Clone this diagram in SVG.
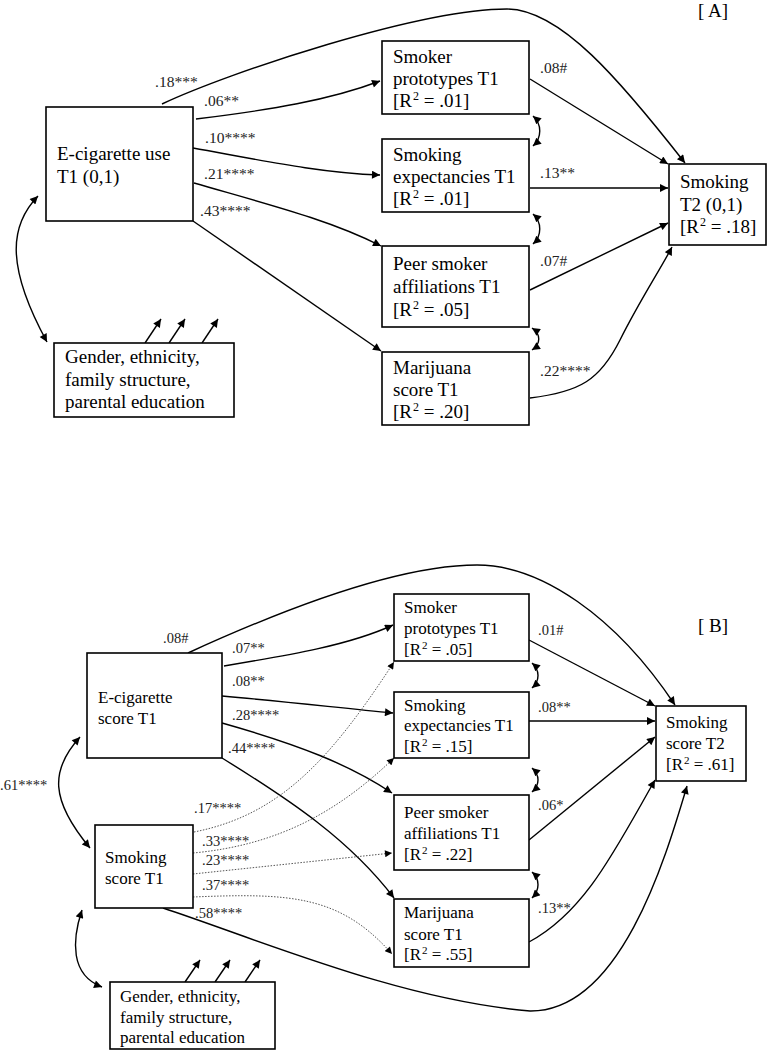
<svg xmlns="http://www.w3.org/2000/svg" width="768" height="1050" viewBox="0 0 768 1050">
<style>
.bx{fill:#fff;stroke:#000;stroke-width:1.6}
.ta{font-family:"Liberation Serif","Times New Roman",serif;font-size:19px;fill:#000}
.tb{font-family:"Liberation Serif","Times New Roman",serif;font-size:17px;fill:#000}
.ca{font-family:"Liberation Serif","Times New Roman",serif;font-size:15.5px;fill:#222}
.cb{font-family:"Liberation Serif","Times New Roman",serif;font-size:14.5px;fill:#222}
.ln{fill:none;stroke:#000;stroke-width:1.4;marker-end:url(#ah)}
.dl{fill:none;stroke:#555;stroke-width:1;stroke-dasharray:1.5 1.5;marker-end:url(#ahs)}
.bi{fill:none;stroke:#000;stroke-width:1.4;marker-start:url(#ah);marker-end:url(#ah)}
.sa{font-size:12px}
.sb{font-size:11px}
</style>
<defs>
<marker id="ah" viewBox="0 0 10 10" refX="10" refY="5" markerWidth="10" markerHeight="8" markerUnits="userSpaceOnUse" orient="auto-start-reverse"><path d="M0,0 L10,5 L0,10 z" fill="#000"/></marker>
<marker id="ahs" viewBox="0 0 10 10" refX="10" refY="5" markerWidth="8" markerHeight="7" markerUnits="userSpaceOnUse" orient="auto-start-reverse"><path d="M0,0 L10,5 L0,10 z" fill="#000"/></marker>
</defs>
<rect width="768" height="1050" fill="#fff"/>

<g id="connectors">
<!-- Panel A -->
<path class="ln" d="M162,104 C230,72 420,9 507,9 C560,9 620,80 685,163"/>
<path class="ln" d="M196,119 C270,110 330,100 380,81"/>
<path class="ln" d="M193,148 C260,160 320,173 380,175"/>
<path class="ln" d="M194,183 C270,205 330,220 381,246"/>
<path class="ln" d="M193,221 L381,351"/>
<path class="ln" d="M530,79 L668,164"/>
<path class="ln" d="M530,188 L668,188"/>
<path class="ln" d="M530,290 L668,223"/>
<path class="ln" d="M530,398 C580,392 600,380 620,340 C640,300 660,270 672,247"/>
<path class="bi" d="M533,116 C542,124 542,138 533,146"/>
<path class="bi" d="M533,214 C542,222 542,236 533,244"/>
<path class="bi" d="M532,328 C541,334 541,344 532,350"/>
<path class="bi" d="M38,196 C10,225 5,265 47,342"/>
<path class="ln" d="M145,343 L161,319"/>
<path class="ln" d="M169,343 L185,319"/>
<path class="ln" d="M202,343 L218,319"/>
<!-- Panel B -->
<path class="ln" d="M188,653 C260,620 390,565 477,565 C540,565 615,615 675,705"/>
<path class="ln" d="M224,666 C290,655 350,645 393,625"/>
<path class="ln" d="M222,696 C290,702 340,708 393,713"/>
<path class="ln" d="M222,723 C300,745 350,765 392,793"/>
<path class="ln" d="M222,758 C290,800 350,840 394,898"/>
<path class="dl" d="M194,832 C280,815 330,760 394,662"/>
<path class="dl" d="M193,853 C280,845 340,810 394,758"/>
<path class="dl" d="M193,874 L392,853"/>
<path class="dl" d="M193,897 C290,893 340,895 392,954"/>
<path class="ln" d="M163,908 C260,940 400,1000 530,1011 C620,1012 665,860 687,786"/>
<path class="ln" d="M529,640 L655,706"/>
<path class="ln" d="M529,721 L655,721"/>
<path class="ln" d="M529,840 L655,737"/>
<path class="ln" d="M529,942 C585,912 615,850 655,780"/>
<path class="bi" d="M532,663 C540,670 540,681 532,688"/>
<path class="bi" d="M532,768 C540,775 540,785 532,792"/>
<path class="bi" d="M532,872 C540,879 540,890 532,898"/>
<path class="bi" d="M80,737 C50,770 50,800 90,848"/>
<path class="bi" d="M82,910 C72,940 70,975 102,987"/>
<path class="ln" d="M185,982 L200,960"/>
<path class="ln" d="M215,982 L230,960"/>
<path class="ln" d="M245,982 L260,960"/>
</g>

<g id="labels">
<text class="ta" x="698" y="17">[ A]</text>
<text class="ca" x="155" y="87">.18***</text>
<text class="ca" x="204" y="106">.06**</text>
<text class="ca" x="205" y="143">.10****</text>
<text class="ca" x="204" y="179">.21****</text>
<text class="ca" x="200" y="216">.43****</text>
<text class="ca" x="540" y="73">.08#</text>
<text class="ca" x="540" y="178">.13**</text>
<text class="ca" x="540" y="266">.07#</text>
<text class="ca" x="540" y="376">.22****</text>
<text class="ta" x="698" y="632">[ B]</text>
<text class="cb" x="163" y="643">.08#</text>
<text class="cb" x="232" y="653">.07**</text>
<text class="cb" x="232" y="686">.08**</text>
<text class="cb" x="232" y="720">.28****</text>
<text class="cb" x="228" y="753">.44****</text>
<text class="cb" x="194" y="813">.17****</text>
<text class="cb" x="202" y="846">.33****</text>
<text class="cb" x="202" y="865">.23****</text>
<text class="cb" x="202" y="890">.37****</text>
<text class="cb" x="195" y="918">.58****</text>
<text class="cb" x="0" y="790">.61****</text>
<text class="cb" x="538" y="635">.01#</text>
<text class="cb" x="538" y="712">.08**</text>
<text class="cb" x="538" y="810">.06*</text>
<text class="cb" x="538" y="913">.13**</text>
</g>

<g id="ecigA"><rect class="bx" x="46" y="107" width="147" height="114"/>
<text class="ta" x="57" y="160">E-cigarette use</text><text class="ta" x="57" y="183">T1 (0,1)</text></g>
<g id="protoA"><rect class="bx" x="382" y="41" width="147" height="73"/>
<text class="ta" x="393" y="63">Smoker</text><text class="ta" x="393" y="85">prototypes T1</text><text class="ta" x="393" y="107">[R<tspan class="sa" dx="1" dy="-7">2</tspan><tspan dy="7"> = .01]</tspan></text></g>
<g id="expA"><rect class="bx" x="382" y="139" width="147" height="73"/>
<text class="ta" x="393" y="161">Smoking</text><text class="ta" x="393" y="183">expectancies T1</text><text class="ta" x="393" y="205">[R<tspan class="sa" dx="1" dy="-7">2</tspan><tspan dy="7"> = .01]</tspan></text></g>
<g id="peerA"><rect class="bx" x="382" y="246" width="147" height="81"/>
<text class="ta" x="393" y="270">Peer smoker</text><text class="ta" x="393" y="293">affiliations T1</text><text class="ta" x="393" y="316">[R<tspan class="sa" dx="1" dy="-7">2</tspan><tspan dy="7"> = .05]</tspan></text></g>
<g id="mariA"><rect class="bx" x="382" y="352" width="147" height="73"/>
<text class="ta" x="393" y="374">Marijuana</text><text class="ta" x="393" y="396">score T1</text><text class="ta" x="393" y="418">[R<tspan class="sa" dx="1" dy="-7">2</tspan><tspan dy="7"> = .20]</tspan></text></g>
<g id="smokeT2A"><rect class="bx" x="669" y="164" width="97" height="81"/>
<text class="ta" x="680" y="188">Smoking</text><text class="ta" x="680" y="211">T2 (0,1)</text><text class="ta" x="680" y="233">[R<tspan class="sa" dx="1" dy="-7">2</tspan><tspan dy="7"> = .18]</tspan></text></g>
<g id="genderA"><rect class="bx" x="54" y="343" width="180" height="74"/>
<text class="ta" x="65" y="363">Gender, ethnicity,</text><text class="ta" x="65" y="386">family structure,</text><text class="ta" x="65" y="408">parental education</text></g>

<g id="ecigB"><rect class="bx" x="87" y="653" width="135" height="105"/>
<text class="tb" x="98" y="703">E-cigarette</text><text class="tb" x="98" y="724">score T1</text></g>
<g id="smokeT1B"><rect class="bx" x="95" y="825" width="98" height="83"/>
<text class="tb" x="105" y="863">Smoking</text><text class="tb" x="105" y="884">score T1</text></g>
<g id="genderB"><rect class="bx" x="110" y="982" width="165" height="67"/>
<text class="tb" x="120" y="1002">Gender, ethnicity,</text><text class="tb" x="120" y="1023">family structure,</text><text class="tb" x="120" y="1043">parental education</text></g>
<g id="protoB"><rect class="bx" x="394" y="594" width="135" height="67"/>
<text class="tb" x="404" y="613">Smoker</text><text class="tb" x="404" y="634">prototypes T1</text><text class="tb" x="404" y="655">[R<tspan class="sb" dx="1" dy="-6">2</tspan><tspan dy="6"> = .05]</tspan></text></g>
<g id="expB"><rect class="bx" x="394" y="692" width="135" height="66"/>
<text class="tb" x="404" y="711">Smoking</text><text class="tb" x="404" y="731">expectancies T1</text><text class="tb" x="404" y="752">[R<tspan class="sb" dx="1" dy="-6">2</tspan><tspan dy="6"> = .15]</tspan></text></g>
<g id="peerB"><rect class="bx" x="394" y="795" width="135" height="75"/>
<text class="tb" x="404" y="818">Peer smoker</text><text class="tb" x="404" y="839">affiliations T1</text><text class="tb" x="404" y="860">[R<tspan class="sb" dx="1" dy="-6">2</tspan><tspan dy="6"> = .22]</tspan></text></g>
<g id="mariB"><rect class="bx" x="394" y="899" width="135" height="68"/>
<text class="tb" x="404" y="918">Marijuana</text><text class="tb" x="404" y="940">score T1</text><text class="tb" x="404" y="960">[R<tspan class="sb" dx="1" dy="-6">2</tspan><tspan dy="6"> = .55]</tspan></text></g>
<g id="smokeT2B"><rect class="bx" x="656" y="706" width="90" height="75"/>
<text class="tb" x="666" y="728">Smoking</text><text class="tb" x="666" y="749">score T2</text><text class="tb" x="666" y="770">[R<tspan class="sb" dx="1" dy="-6">2</tspan><tspan dy="6"> = .61]</tspan></text></g>
</svg>
